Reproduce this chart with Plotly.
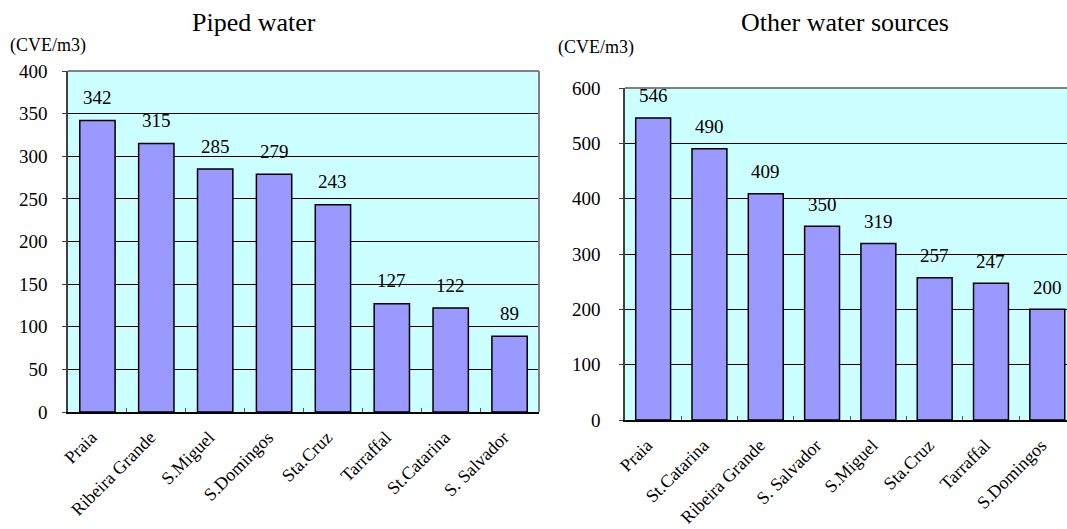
import plotly.graph_objects as go

# Piped water prices by municipality
piped_names = ["Praia", "Ribeira Grande", "S.Miguel", "S.Domingos", "Sta.Cruz",
               "Tarraffal", "St.Catarina", "S. Salvador"]
piped_values = [342, 315, 285, 279, 243, 127, 122, 89]

# Other water sources prices by municipality
other_names = ["Praia", "St.Catarina", "Ribeira Grande", "S. Salvador", "S.Miguel",
               "Sta.Cruz", "Tarraffal", "S.Domingos"]
other_values = [546, 490, 409, 350, 319, 257, 247, 200]

FONT = "Liberation Serif"
BAR = "#9999FF"
BG = "#CCFFFF"

fig = go.Figure()
fig.add_trace(go.Bar(x=piped_names, y=piped_values, xaxis="x", yaxis="y",
                     width=0.6, marker=dict(color=BAR, line=dict(color="black", width=1.5)),
                     showlegend=False, hoverinfo="x+y"))
fig.add_trace(go.Bar(x=other_names, y=other_values, xaxis="x2", yaxis="y2",
                     width=0.62, marker=dict(color=BAR, line=dict(color="black", width=1.5)),
                     showlegend=False, hoverinfo="x+y"))

W, H = 1067, 529
L_dom = [68 / W, 539 / W]
R_dom = [625 / W, 1.0]
L_ydom = [(H - 412) / H, (H - 71) / H]
R_ydom = [(H - 420) / H, (H - 88) / H]

xcommon = dict(type="category", showgrid=False, showline=True, linecolor="black", linewidth=1.5,
               ticks="inside", tickson="boundaries", ticklen=4, tickcolor="#555555",
               tickangle=-45, ticklabelstandoff=6, ticklabelshift=-6, automargin=False,
               tickfont=dict(family=FONT, size=18, color="black"), zeroline=False)
ycommon = dict(showgrid=True, gridcolor="black", gridwidth=1, showline=True, linecolor="#404040",
               linewidth=1.5, ticks="outside", ticklen=4, tickcolor="#404040", automargin=False,
               tickfont=dict(family=FONT, size=19, color="black"), zeroline=False)

fig.update_layout(
    width=W, height=H,
    margin=dict(l=0, r=0, t=0, b=0),
    paper_bgcolor="white",
    plot_bgcolor=BG,
    font=dict(family=FONT, color="black"),
    xaxis=dict(domain=L_dom, anchor="y", range=[-0.5, 7.5], **xcommon),
    yaxis=dict(domain=L_ydom, anchor="x", range=[0, 400], dtick=50, ticklabelstandoff=11, **ycommon),
    xaxis2=dict(domain=R_dom, anchor="y2", range=[-0.5, 7.35], **xcommon),
    yaxis2=dict(domain=R_ydom, anchor="x2", range=[0, 600], dtick=100, ticklabelstandoff=15, **ycommon),
)

annotations = []
for name, val in zip(piped_names, piped_values):
    annotations.append(dict(x=name, y=val, xref="x", yref="y", text=str(val), showarrow=False,
                            yanchor="middle", yshift=23, font=dict(family=FONT, size=19, color="black")))
for name, val in zip(other_names, other_values):
    annotations.append(dict(x=name, y=val, xref="x2", yref="y2", text=str(val), showarrow=False,
                            yanchor="middle", yshift=22, font=dict(family=FONT, size=19, color="black")))

# Chart titles and unit labels
annotations += [
    dict(x=254 / W, y=1 - 23 / H, xref="paper", yref="paper", text="Piped water", showarrow=False,
         xanchor="center", yanchor="middle", font=dict(family=FONT, size=26, color="black")),
    dict(x=845 / W, y=1 - 23 / H, xref="paper", yref="paper", text="Other water sources", showarrow=False,
         xanchor="center", yanchor="middle", font=dict(family=FONT, size=26, color="black")),
    dict(x=48 / W, y=1 - 46 / H, xref="paper", yref="paper", text="(CVE/m3)", showarrow=False,
         xanchor="center", yanchor="middle", font=dict(family=FONT, size=18, color="black")),
    dict(x=596 / W, y=1 - 48 / H, xref="paper", yref="paper", text="(CVE/m3)", showarrow=False,
         xanchor="center", yanchor="middle", font=dict(family=FONT, size=18, color="black")),
]
fig.update_layout(annotations=annotations)

# Grey frame along the top and right of each plot area
gray = dict(color="#808080", width=2)
shapes = [
    dict(type="line", xref="paper", yref="paper", x0=L_dom[0], x1=L_dom[1], y0=L_ydom[1], y1=L_ydom[1], line=gray),
    dict(type="line", xref="paper", yref="paper", x0=L_dom[1], x1=L_dom[1], y0=L_ydom[0], y1=L_ydom[1], line=gray),
    dict(type="line", xref="paper", yref="paper", x0=R_dom[0], x1=R_dom[1], y0=R_ydom[1], y1=R_ydom[1], line=gray),
]
fig.update_layout(shapes=shapes)

fig.write_html("out.html")
